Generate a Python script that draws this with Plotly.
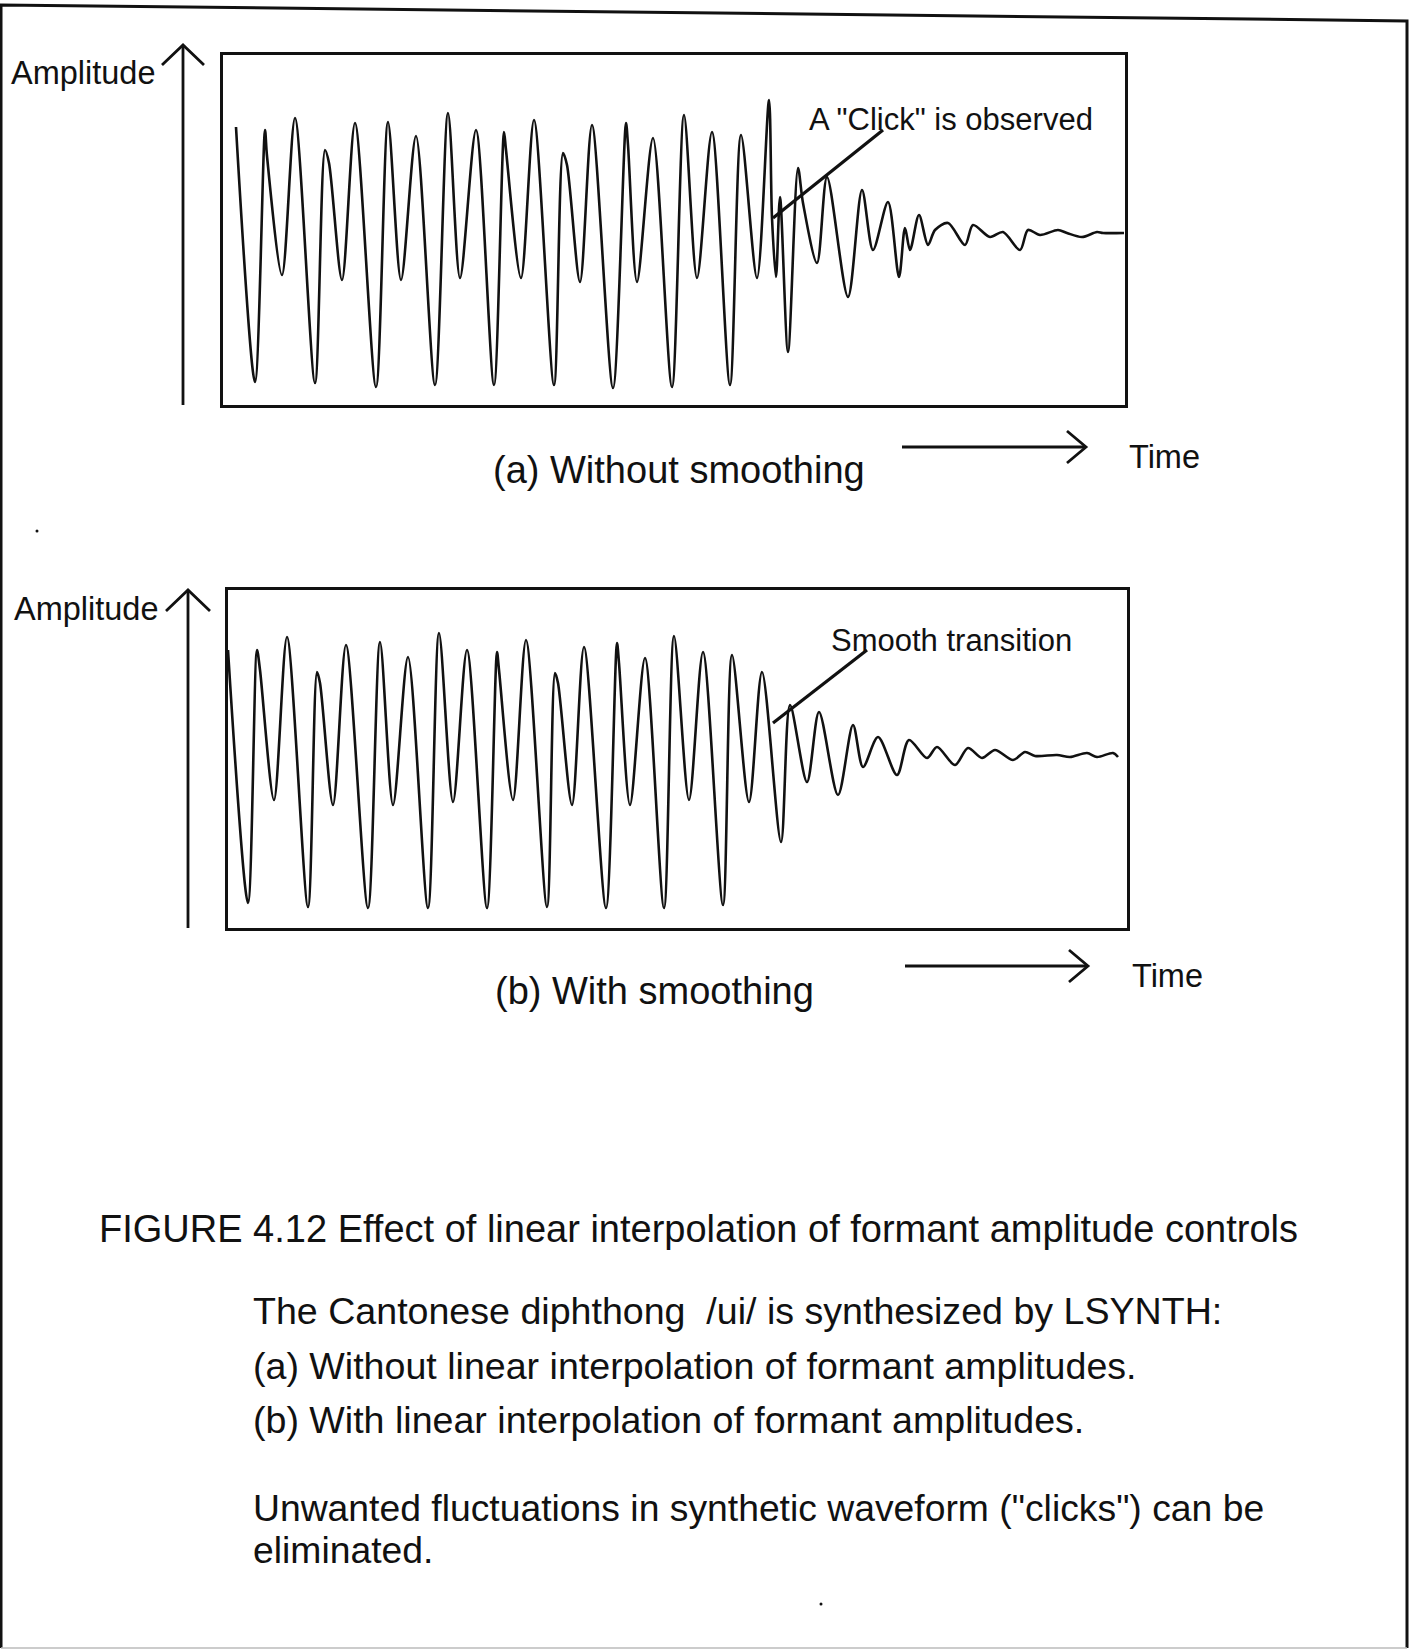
import plotly.graph_objects as go

# ---- waveform data (time in samples, amplitude in arbitrary units) ----
# (a) synthesized /ui/ without amplitude smoothing
wave_a_t = [13, 32, 42, 44, 59, 72, 92, 102, 106, 119, 132, 153, 165, 178, 193, 212,
            225, 237, 253, 271, 281, 283, 298, 311, 331, 340, 344, 357, 369, 390, 403,
            405, 414, 430, 449, 461, 474, 489, 507, 518, 534, 546, 549, 553, 557, 565,
            575, 580, 594, 604, 625, 639, 650, 665, 676, 682, 687, 696, 705, 712, 725,
            742, 750, 767, 780, 797, 805, 817, 835, 844, 859, 874, 880, 901]
wave_a_amp = [106, -149, 103, 77, -42, 115, -150, 83, 70, -47, 110, -154, 111, -47, 97, -152,
              120, -45, 103, -152, 101, 83, -45, 113, -152, 80, 68, -49, 108, -155, 110,
              88, -49, 95, -154, 118, -45, 101, -152, 98, -45, 133, 15, -44, 36, -119,
              65, 30, -30, 56, -64, 43, -17, 31, -44, 5, -17, 18, -12, 3, 10,
              -12, 8, -4, 1, -17, 3, -2, 3, 0, -4, 1, 0, 0]

# (b) synthesized /ui/ with linear interpolation of formant amplitudes
wave_b_t = [0, 20, 29, 32, 46, 59, 80, 89, 92, 105, 118, 140, 152, 165, 180, 200,
            211, 225, 239, 259, 269, 271, 285, 298, 319, 327, 330, 344, 356, 378, 389,
            391, 402, 417, 436, 446, 461, 475, 495, 504, 521, 534, 553, 562, 579, 591,
            610, 625, 635, 650, 669, 681, 699, 709, 727, 740, 754, 767, 785, 797, 807,
            829, 842, 859, 869, 885, 890]
wave_b_amp = [106, -147, 106, 86, -44, 119, -151, 84, 73, -49, 111, -152, 114, -49, 99, -152,
              123, -46, 106, -152, 104, 86, -44, 116, -151, 83, 73, -49, 109, -152, 113,
              93, -49, 98, -152, 120, -44, 104, -149, 101, -46, 84, -86, 51, -26, 44,
              -39, 31, -11, 19, -19, 16, -2, 9, -9, 8, -2, 6, -4, 4, 0,
              1, -1, 3, -1, 3, -1]

# axis extents of the two waveform panels
range_a_t, range_a_amp = [0, 902], [-172, 178]
range_b_t, range_b_amp = [0, 899], [-172, 166]

# callout labels: (start t, start amp, end t, end amp, text t, text amp, text)
callout_a = (550, 15, 660, 103, 728, 113, 'A "Click" is observed')
callout_b = (545, 33, 639, 106, 723, 116, "Smooth transition")

captions = ["(a) Without smoothing", "(b) With smoothing"]
body_lines = [
    "FIGURE 4.12 Effect of linear interpolation of formant amplitude controls",
    "The Cantonese diphthong  /ui/ is synthesized by LSYNTH:",
    "(a) Without linear interpolation of formant amplitudes.",
    "(b) With linear interpolation of formant amplitudes.",
    'Unwanted fluctuations in synthetic waveform ("clicks") can be',
    "eliminated.",
]

W, H = 1411, 1650
FONT = "Liberation Sans, Arial, sans-serif"
INK = "#111111"


def px(x):
    return x / W


def py(y):
    return 1 - y / H


fig = go.Figure()
wave_line = dict(color=INK, width=2.6, shape="spline", smoothing=0.85)
fig.add_trace(go.Scatter(x=wave_a_t, y=wave_a_amp, mode="lines", line=wave_line,
                         xaxis="x", yaxis="y", showlegend=False, hoverinfo="skip"))
fig.add_trace(go.Scatter(x=wave_b_t, y=wave_b_amp, mode="lines", line=wave_line,
                         xaxis="x2", yaxis="y2", showlegend=False, hoverinfo="skip"))

box_axis = dict(showline=True, mirror=True, linecolor=INK, linewidth=3,
                showgrid=False, zeroline=False, showticklabels=False, ticks="")

shapes = []
annotations = []


def seg(x0, y0, x1, y1, w=2.5):
    shapes.append(dict(type="line", xref="paper", yref="paper",
                       x0=px(x0), y0=py(y0), x1=px(x1), y1=py(y1),
                       line=dict(color=INK, width=w)))


def path(points, w=2.5, color=INK):
    d = "M " + " L ".join(f"{px(a):.5f},{py(b):.5f}" for a, b in points)
    shapes.append(dict(type="path", xref="paper", yref="paper", path=d,
                       line=dict(color=color, width=w)))


def text(s, x, y, size, anchor="left"):
    annotations.append(dict(text=s, xref="paper", yref="paper", x=px(x), y=py(y),
                            xanchor=anchor, yanchor="middle", showarrow=False,
                            font=dict(family=FONT, size=size, color=INK)))


# page frame: dark top/sides, faint bottom edge
path([(1, 1648), (1, 5), (1250, 19), (1407, 21), (1407, 1648)], w=3)
path([(1, 1648), (1407, 1648)], w=1.5, color="#bbbbbb")

# amplitude arrows
seg(183, 45, 183, 405, w=2.8)
path([(162, 65), (183, 45), (204, 65)], w=2.8)
seg(188, 590, 188, 928, w=2.8)
path([(166, 611), (188, 590), (210, 611)], w=2.8)
text("Amplitude", 9, 73, 32.5)
text("Amplitude", 12, 609, 32.5)

# time arrows
seg(902, 447, 1085, 447, w=2.8)
path([(1067, 431), (1086, 447), (1067, 463)], w=2.8)
seg(905, 966, 1087, 966, w=2.8)
path([(1069, 950), (1088, 966), (1069, 982)], w=2.8)
text("Time", 1127, 457, 32.5)
text("Time", 1130, 976, 32.5)

# panel captions
text(captions[0], 491, 470, 38)
text(captions[1], 493, 991, 38)

# callouts, placed in each panel's data coordinates
for (t0, a0, t1, a1, tt, ta, s), xr, yr in [(callout_a, "x", "y"), (callout_b, "x2", "y2")]:
    shapes.append(dict(type="line", xref=xr, yref=yr, x0=t0, y0=a0, x1=t1, y1=a1,
                       line=dict(color=INK, width=3.2)))
    annotations.append(dict(text=s, xref=xr, yref=yr, x=tt, y=ta, xanchor="center",
                            yanchor="middle", showarrow=False,
                            font=dict(family=FONT, size=31, color=INK)))

# figure caption and description
text(body_lines[0], 97, 1229, 38)
for s, y in zip(body_lines[1:4], [1311, 1366, 1420]):
    text(s, 251, y, 37.6)
text(body_lines[4], 251, 1508, 37.3)
text(body_lines[5], 251, 1550, 37.3)

# stray specks on the page
for cx, cy in [(37, 531), (821, 1604)]:
    shapes.append(dict(type="circle", xref="paper", yref="paper",
                       x0=px(cx - 1.5), y0=py(cy - 1.5), x1=px(cx + 1.5), y1=py(cy + 1.5),
                       fillcolor=INK, line=dict(width=0)))

fig.update_layout(
    width=W, height=H, margin=dict(l=0, r=0, t=0, b=0),
    paper_bgcolor="white", plot_bgcolor="white",
    xaxis=dict(domain=[px(223), px(1125)], range=range_a_t, anchor="y", **box_axis),
    yaxis=dict(domain=[py(405), py(55)], range=range_a_amp, anchor="x", **box_axis),
    xaxis2=dict(domain=[px(228), px(1127)], range=range_b_t, anchor="y2", **box_axis),
    yaxis2=dict(domain=[py(928), py(590)], range=range_b_amp, anchor="x2", **box_axis),
    shapes=shapes, annotations=annotations, showlegend=False,
)

fig.write_html("out.html")
